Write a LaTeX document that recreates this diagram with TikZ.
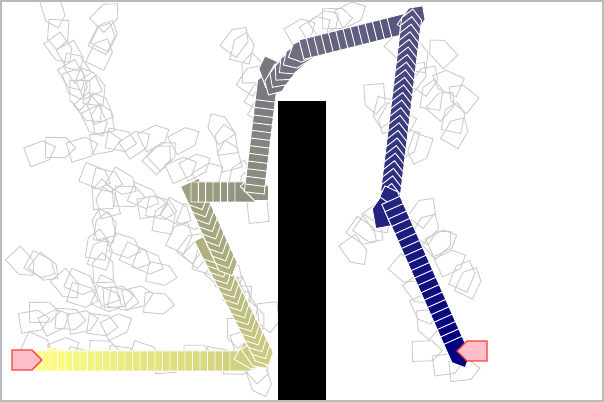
\documentclass[tikz,border=0pt]{standalone}
\usepackage{tikz}
\usetikzlibrary{calc}

\definecolor{trajstart}{RGB}{255,255,128}
\definecolor{trajend}{RGB}{0,0,128}
\definecolor{markfill}{RGB}{255,192,203}
\definecolor{markline}{RGB}{255,60,60}

% one pose of the trajectory, coloured by its index
\newcount\posecount
\newcommand{\trajpose}[3]{%
  \pgfmathtruncatemacro\mixpct{min(100,100*\the\posecount/144)}%
  \draw[trajbox, fill=trajend!\mixpct!trajstart, shift={(#1,#2)}, rotate=#3]
    (-15,-10) -- (5,-10) -- (15,0) -- (5,10) -- (-15,10) -- cycle;
  \global\advance\posecount by 1\relax
}
% straight run of poses: x0, y0, x1, y1, heading, steps
\newcommand{\trajrun}[6]{%
  \foreach \k in {0,...,#6}{%
    \pgfmathsetmacro\tx{#1+(#3-#1)*\k/#6}%
    \pgfmathsetmacro\ty{#2+(#4-#2)*\k/#6}%
    \trajpose{\tx}{\ty}{#5}%
  }%
}

\begin{document}
\begin{tikzpicture}[
        x=0.75pt, y=-0.75pt,
        treebox/.style={draw=black!20, line width=0.7pt},
        trajbox/.style={draw=white, line width=0.7pt, line join=miter},
        markbox/.style={fill=markfill, draw=markline, line width=0.9pt},
        framebox/.style={draw=black!27, line width=1.5pt}
    ]
        \useasboundingbox (0,0) rectangle (604,402);

        % Explored tree
        \pgfmathsetseed{42}
        \foreach \xa/\ya/\xb/\yb/\n/\h in {
                50/10/95/135/9/-75, 105/12/100/60/4/60, 75/60/110/130/5/100,
                35/150/190/140/8/10, 95/175/195/225/9/-15, 100/185/105/290/8/95,
                20/258/95/298/6/-30, 25/315/125/330/7/15, 100/300/160/302/5/0,
                30/352/250/360/10/0, 150/150/215/175/5/30, 165/215/245/300/8/60,
                225/285/272/325/5/-60, 240/28/262/120/6/70, 215/120/255/210/6/100,
                235/330/265/385/4/-70, 290/25/365/18/5/20, 120/240/165/275/4/-30,
                400/40/465/140/8/60, 365/90/420/160/6/-110, 350/252/380/215/4/-45,
                420/205/470/290/7/45, 405/265/430/330/4/-60, 425/345/470/378/3/0,
                440/45/465/110/3/150}{
            \foreach \i in {1,...,\n}{
                \pgfmathsetmacro\gx{\xa+(\xb-\xa)*(\i-0.5)/\n+6*rand}
                \pgfmathsetmacro\gy{\ya+(\yb-\ya)*(\i-0.5)/\n+6*rand}
                \pgfmathsetmacro\gh{\h+25*rand}
                \draw[treebox, shift={(\gx,\gy)}, rotate=\gh]
                    (-15,-10) -- (5,-10) -- (15,0) -- (5,10) -- (-15,10) -- cycle;
            }
        }

        % Obstacle
        \fill[black] (278,101) rectangle (326,401);

        % Trajectory
        \trajpose{52}{358}{15}
        \trajrun{50}{361}{245}{361}{0}{26}
        \trajpose{252}{358}{-30}
        \trajpose{258}{356}{-55}
        \trajrun{262}{352}{210}{250}{-63}{15}
        \trajrun{226}{262}{196}{196}{-65}{9}
        \trajrun{206}{192}{250}{192}{0}{6}
        \trajpose{258}{190}{-45}
        \trajrun{256}{178}{267}{86}{83}{12}
        \trajpose{270}{70}{110}
        \trajpose{276}{82}{240}
        \trajpose{281}{75}{235}
        \trajpose{286}{69}{228}
        \trajpose{291}{63}{220}
        \trajpose{296}{57}{212}
        \trajpose{302}{51}{205}
        \trajrun{316}{46}{404}{24}{14}{12}
        \trajpose{414}{18}{55}
        \trajrun{411}{24}{389}{206}{83}{24}
        \trajpose{390}{200}{110}
        \trajpose{383}{212}{100}
        \trajrun{397}{214}{459}{354}{-66}{19}

        % Start and goal
        \draw[markbox, shift={(27,360)}]
            (-15,-10) -- (5,-10) -- (15,0) -- (5,10) -- (-15,10) -- cycle;
        \draw[markbox, shift={(472,351)}, rotate=180]
            (-15,-10) -- (5,-10) -- (15,0) -- (5,10) -- (-15,10) -- cycle;

        % Frame
        \draw[framebox] (1,1) rectangle (603,401);
    \end{tikzpicture}
\end{document}
